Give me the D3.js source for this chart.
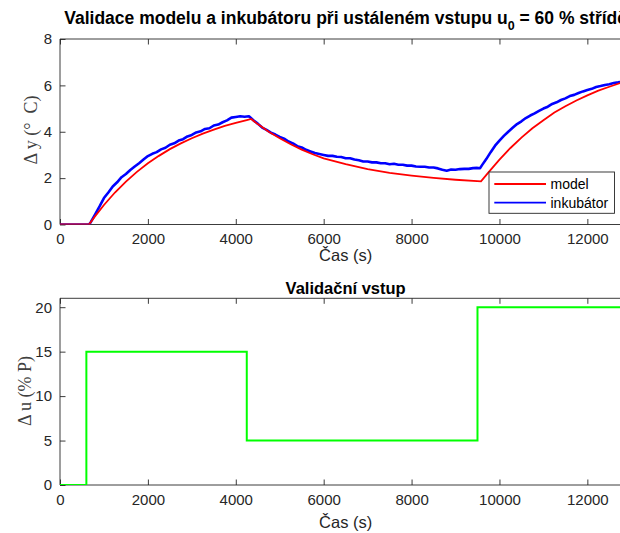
<!DOCTYPE html>
<html>
<head>
<meta charset="utf-8">
<script src="https://cdn.jsdelivr.net/npm/d3@7"></script>
<style>
  body { margin: 0; background: #fff; }
  svg { display: block; font-family: "Liberation Sans", Arial, sans-serif; }
  .tick text { fill: #262626; }
</style>
</head>
<body>
<svg id="chart" width="620" height="533"></svg>
<script>
// model response [time s, delta y]
const modelData = [
  [0, 0], [660, 0], [800, 0.36], [1000, 0.84], [1250, 1.38], [1500, 1.85],
  [1750, 2.27], [2000, 2.64], [2250, 2.96], [2500, 3.25], [2750, 3.5],
  [3000, 3.72], [3250, 3.92], [3500, 4.09], [3750, 4.25], [4000, 4.38],
  [4250, 4.5], [4350, 4.55], [4500, 4.33], [4750, 4.0], [5000, 3.72],
  [5250, 3.46], [5500, 3.23], [5750, 3.03], [6000, 2.85], [6500, 2.6],
  [7000, 2.39], [7500, 2.23], [8000, 2.11], [8500, 2.01], [9000, 1.93],
  [9580, 1.86], [9750, 2.25], [10000, 2.8], [10250, 3.3], [10500, 3.75],
  [10750, 4.15], [11000, 4.5], [11250, 4.83], [11500, 5.1], [11750, 5.35],
  [12000, 5.57], [12250, 5.77], [12500, 5.94], [12750, 6.1], [13000, 6.23]
];

// measured incubator response [time s, delta y]
const incubatorData = [
  [0, 0], [300, 0], [660, 0], [700, 0.1], [800, 0.44], [900, 0.78], [1000, 1.14],
  [1100, 1.38], [1200, 1.64], [1300, 1.82], [1400, 2.04], [1500, 2.18], [1600, 2.35],
  [1700, 2.5], [1800, 2.64], [1900, 2.8], [2000, 2.95], [2100, 3.05], [2200, 3.12],
  [2300, 3.24], [2400, 3.31], [2500, 3.44], [2600, 3.5], [2700, 3.62], [2800, 3.68],
  [2900, 3.8], [3000, 3.86], [3100, 3.97], [3200, 4.02], [3300, 4.12], [3400, 4.15],
  [3500, 4.27], [3600, 4.31], [3700, 4.41], [3800, 4.49], [3900, 4.61], [4000, 4.64],
  [4100, 4.67], [4200, 4.65], [4300, 4.67], [4400, 4.5], [4500, 4.35], [4600, 4.18],
  [4700, 4.08], [4800, 3.96], [4900, 3.88], [5000, 3.78], [5100, 3.7], [5200, 3.58],
  [5300, 3.5], [5400, 3.38], [5500, 3.32], [5600, 3.22], [5700, 3.15], [5800, 3.08],
  [5900, 3.04], [6000, 3.0], [6100, 2.96], [6200, 2.96], [6300, 2.92], [6400, 2.91],
  [6500, 2.86], [6600, 2.86], [6700, 2.8], [6800, 2.77], [6900, 2.72], [7000, 2.72],
  [7100, 2.68], [7200, 2.68], [7300, 2.64], [7400, 2.64], [7500, 2.6], [7600, 2.62],
  [7700, 2.58], [7800, 2.58], [7900, 2.54], [8000, 2.54], [8100, 2.5], [8200, 2.49],
  [8300, 2.49], [8400, 2.46], [8500, 2.46], [8600, 2.42], [8700, 2.36], [8800, 2.32],
  [8900, 2.37], [9000, 2.36], [9100, 2.39], [9200, 2.4], [9300, 2.4], [9400, 2.43],
  [9500, 2.44], [9560, 2.43], [9600, 2.55], [9700, 2.82], [9800, 3.12], [9900, 3.4],
  [10000, 3.62], [10100, 3.82], [10200, 4.0], [10300, 4.17], [10400, 4.33],
  [10500, 4.45], [10600, 4.59], [10700, 4.7], [10800, 4.79], [10900, 4.9],
  [11000, 5.0], [11100, 5.08], [11200, 5.2], [11300, 5.27], [11400, 5.37],
  [11500, 5.44], [11600, 5.54], [11700, 5.59], [11800, 5.67], [11900, 5.74],
  [12000, 5.8], [12100, 5.85], [12200, 5.93], [12300, 5.97], [12400, 6.02],
  [12500, 6.05], [12600, 6.1], [12700, 6.13], [12800, 6.17], [12900, 6.19],
  [13000, 6.22]
];

// validation input, step after each time
const inputTimes = [0, 600, 4250, 9500, 13000];
const inputValues = [0, 15, 5, 20, 20];

const xTicks = [0, 2000, 4000, 6000, 8000, 10000, 12000];
const yTicksTop = [0, 2, 4, 6, 8];
const yTicksBottom = [0, 5, 10, 15, 20];

const svg = d3.select("#chart");
const axisColor = "#262626";
const tickLen = 5.5;

const left = 60, right = 631.3;
const x = d3.scaleLinear().domain([0, 13000]).range([left, right]);

const yTop = d3.scaleLinear().domain([0, 8]).range([224.5, 39]);
const yBottom = d3.scaleLinear().domain([0, 21]).range([485, 298.3]);

function drawAxes(y, yTicks, id) {
  const g = svg.append("g");
  const [y0, y1] = y.range();

  g.append("clipPath").attr("id", id)
    .append("rect")
    .attr("x", left).attr("y", y1)
    .attr("width", right - left).attr("height", y0 - y1);

  const bottom = g.append("g")
    .attr("transform", `translate(0,${y0})`)
    .call(d3.axisBottom(x).tickValues(xTicks).tickSize(-tickLen).tickPadding(9).tickFormat(d3.format("d")));
  const top = g.append("g")
    .attr("transform", `translate(0,${y1})`)
    .call(d3.axisTop(x).tickValues(xTicks).tickSize(-tickLen).tickFormat(""));
  const leftAx = g.append("g")
    .attr("transform", `translate(${left},0)`)
    .call(d3.axisLeft(y).tickValues(yTicks).tickSize(-tickLen).tickPadding(8));

  [bottom, top, leftAx].forEach((a) => {
    a.selectAll(".domain").attr("stroke", axisColor).attr("stroke-width", 0.9);
    a.selectAll(".tick line").attr("stroke", axisColor).attr("stroke-width", 0.9);
    a.selectAll(".tick text").attr("font-size", 15).attr("font-family", "Liberation Sans, Arial, sans-serif");
  });
  bottom.select(".domain").attr("d", `M${left},0H${right + 10}`);
  top.select(".domain").attr("d", `M${left},0H${right + 10}`);
  leftAx.select(".domain").attr("d", `M0,${y0}V${y1}`);
  return g;
}

drawAxes(yTop, yTicksTop, "clipTop");
drawAxes(yBottom, yTicksBottom, "clipBottom");

// top plot lines
const lineTop = d3.line().x((d) => x(d[0])).y((d) => yTop(d[1]));

svg.append("path")
  .datum(incubatorData)
  .attr("clip-path", "url(#clipTop)")
  .attr("fill", "none")
  .attr("stroke", "#0000ff")
  .attr("stroke-width", 2.6)
  .attr("stroke-linejoin", "round")
  .attr("d", lineTop);

svg.append("path")
  .datum(modelData)
  .attr("clip-path", "url(#clipTop)")
  .attr("fill", "none")
  .attr("stroke", "#ff0000")
  .attr("stroke-width", 1.8)
  .attr("d", lineTop);

// bottom plot step line
const inputData = inputTimes.map((t, i) => [t, inputValues[i]]);
svg.append("path")
  .datum(inputData)
  .attr("clip-path", "url(#clipBottom)")
  .attr("fill", "none")
  .attr("stroke", "#00ff00")
  .attr("stroke-width", 2)
  .attr("d", d3.line().x((d) => x(d[0])).y((d) => yBottom(d[1])).curve(d3.curveStepAfter));

// titles
const midX = (left + right) / 2;
const title = svg.append("text")
  .attr("x", midX).attr("y", 24)
  .attr("text-anchor", "middle")
  .attr("font-size", 17.5).attr("font-weight", "bold").attr("fill", "#000");
title.append("tspan").text("Validace modelu a inkubátoru při ustáleném vstupu u");
title.append("tspan").attr("font-size", 12.5).attr("dy", 6).text("0");
title.append("tspan").attr("dy", -6).text(" = 60 % střídě");

svg.append("text")
  .attr("x", midX).attr("y", 294)
  .attr("text-anchor", "middle")
  .attr("font-size", 16.5).attr("font-weight", "bold").attr("fill", "#000")
  .text("Validační vstup");

// x labels
[261, 528].forEach((yy) => {
  svg.append("text")
    .attr("x", midX).attr("y", yy)
    .attr("text-anchor", "middle")
    .attr("font-size", 16.5).attr("fill", axisColor)
    .text("Čas (s)");
});

// y labels (serif, like LaTeX)
function yLabel(cx, cy, label) {
  svg.append("text")
    .attr("transform", `translate(${cx},${cy}) rotate(-90)`)
    .attr("text-anchor", "middle")
    .attr("font-family", "Liberation Serif, Times New Roman, serif")
    .attr("font-size", 18).attr("fill", "#404040")
    .attr("xml:space", "preserve")
    .text(label);
}
yLabel(37, 130, "Δ y (°  C)");
yLabel(31, 391, "Δ u (% P)");

// legend
const legend = svg.append("g");
legend.append("rect")
  .attr("x", 489).attr("y", 172)
  .attr("width", 125.5).attr("height", 41.3)
  .attr("fill", "#fff").attr("stroke", axisColor).attr("stroke-width", 0.9);
const legendItems = [["model", "#ff0000", 184], ["inkubátor", "#0000ff", 202.7]];
legendItems.forEach(([name, color, yy]) => {
  legend.append("line")
    .attr("x1", 494.3).attr("x2", 546).attr("y1", yy).attr("y2", yy)
    .attr("stroke", color).attr("stroke-width", 1.8);
  legend.append("text")
    .attr("x", 550.5).attr("y", yy + 5)
    .attr("font-size", 14).attr("fill", "#000")
    .text(name);
});
</script>
</body>
</html>
